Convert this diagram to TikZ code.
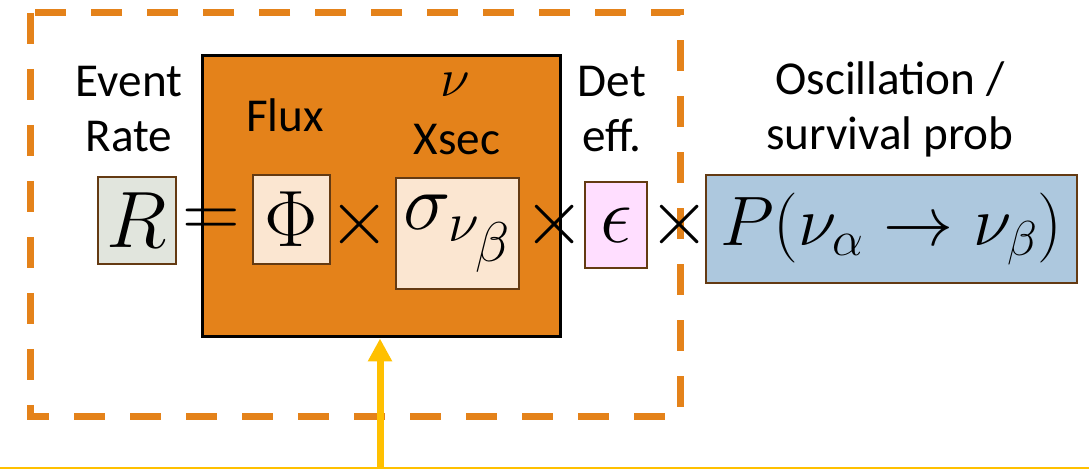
\documentclass[tikz,border=0pt]{standalone}
\usepackage{fix-cm}
\usepackage{fontspec}
\setmainfont{Carlito}
\usetikzlibrary{arrows.meta}

\definecolor{xorange}{HTML}{E4821A}
\definecolor{boxedge}{HTML}{643A12}
\definecolor{ratefill}{HTML}{E1E5DD}
\definecolor{fluxfill}{HTML}{FBE6D1}
\definecolor{efffill}{HTML}{FFDEFF}
\definecolor{probfill}{HTML}{ADC8DE}
\definecolor{pointer}{HTML}{FFC000}

\tikzset{
  term/.style={draw=boxedge, line width=1.4pt, inner sep=0pt, font=\fontsize{40}{46}\selectfont},
  caption/.style={align=center, anchor=base, font=\fontsize{23.6}{27.5}\selectfont},
  op/.style={inner sep=0pt, font=\fontsize{40}{46}\selectfont}
}

\begin{document}
\begin{tikzpicture}[x=0.5pt,y=-0.5pt]
    \useasboundingbox (0,0) rectangle (1089,469);

    % dashed frame round the first factors
    \draw[xorange, line width=3.5pt, dash pattern=on 15.5pt off 12.5pt] (30,13) rectangle (680,417);

    % orange block: flux and cross section
    \node[draw=black, fill=xorange, line width=1.5pt, minimum width=179pt, minimum height=140.5pt] (flux) at (381,196.5) {};

    \node[term, fill=ratefill, minimum width=39pt, minimum height=43.5pt] (rate) at (137,220.5) {$R$};
    \node[term, fill=fluxfill, minimum width=38.5pt, minimum height=44.5pt] (phi) at (291.5,219.5) {$\Phi$};
    \node[term, fill=fluxfill, minimum width=61.5pt, minimum height=55.5pt] (xsec) at (457.5,233.5) {$\sigma_{\nu_{\scriptstyle\beta}}$};
    \node[term, fill=efffill, minimum width=31pt, minimum height=43pt] (eff) at (616,225) {$\epsilon$};
    \node[term, fill=probfill, minimum width=185.5pt, minimum height=54pt, font=\fontsize{35}{40}\selectfont] (prob) at (891.5,229) {$P(\nu_\alpha\rightarrow\nu_\beta)$};

    \node[op] (eq) at (211,223) {$=$};
    \node[op] (x1) at (360,225) {$\times$};
    \node[op] (x2) at (555,225) {$\times$};
    \node[op] (x3) at (680,225) {$\times$};

    \node[caption] (lblrate) at (129,152) {Event\\Rate};
    \node[caption] (lblflux) at (285,132) {Flux};
    \node[caption, font=\fontsize{27}{30}\selectfont] (lblnu) at (455,97) {$\nu$};
    \node[caption] (lblxsec) at (457,155) {Xsec};
    \node[caption] (lbldet) at (612,152) {Det\\eff.};
    \node[caption] (lblosc) at (890,150) {Oscillation /\\survival prob};

    % pointer from below
    \coordinate (src) at (380,469);
    \draw[pointer, line width=3.5pt, -{Triangle[length=11.5pt,width=11.5pt]}] (src) -- (src |- flux.south);
    \draw[pointer, line width=0.8pt] (0,468) -- (1089,468);
\end{tikzpicture}
\end{document}
